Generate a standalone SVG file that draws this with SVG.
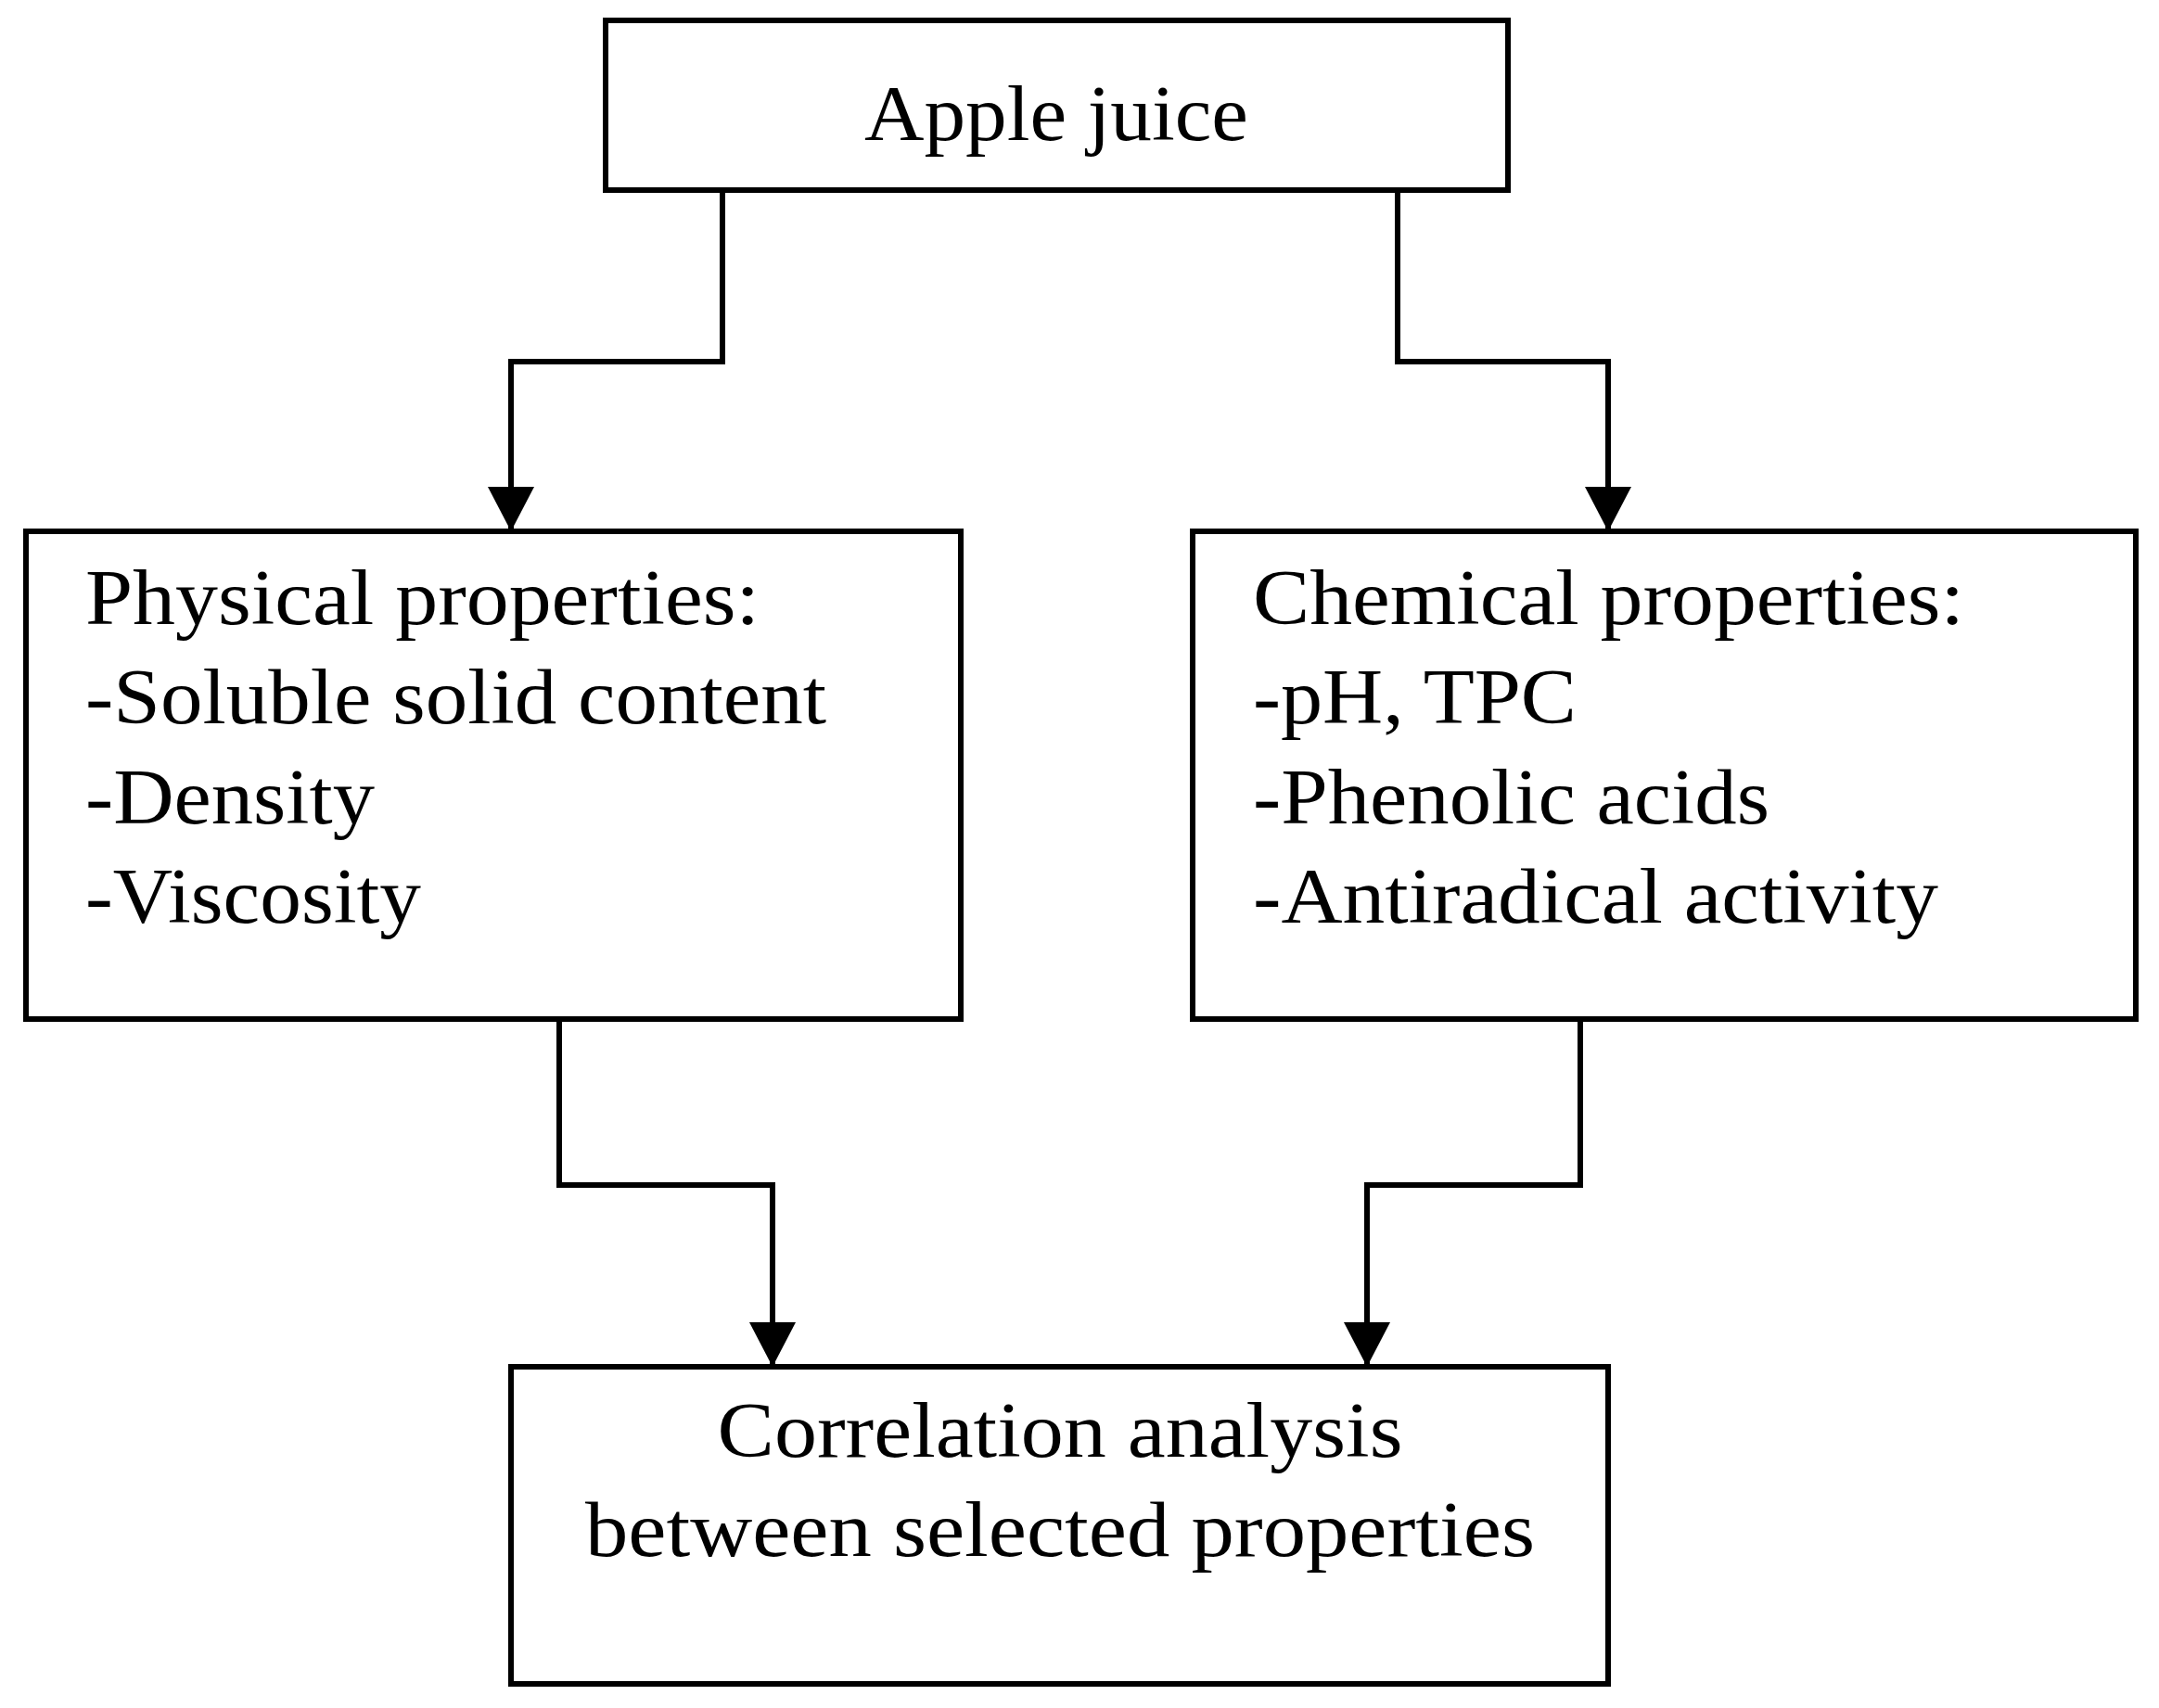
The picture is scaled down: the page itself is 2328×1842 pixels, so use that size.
<svg xmlns="http://www.w3.org/2000/svg" width="2328" height="1842" viewBox="0 0 2328 1842">
<style>
.box{fill:#fff;stroke:#000;stroke-width:6}
.c{fill:none;stroke:#000;stroke-width:6;marker-end:url(#a)}
text{font-family:"Liberation Serif",serif;font-size:84px;fill:#000}
</style>
<defs><marker id="a" markerUnits="userSpaceOnUse" markerWidth="52" markerHeight="50" refX="48" refY="25" orient="auto"><path d="M0,0 L48,25 L0,50 Z" fill="#000"/></marker></defs>
<rect width="2328" height="1842" fill="#fff"/>
<g id="connectors">
<path class="c" d="M779,205 V390 H551 V573"/>
<path class="c" d="M1507,205 V390 H1734 V573"/>
<path class="c" d="M603,1099 V1278 H833 V1474"/>
<path class="c" d="M1704,1099 V1278 H1474 V1474"/>
</g>
<g id="apple"><rect class="box" x="653" y="22" width="973" height="183"/><text x="1139" y="151" text-anchor="middle" textLength="414" lengthAdjust="spacingAndGlyphs">Apple juice</text></g>
<g id="physical"><rect class="box" x="28" y="573" width="1008" height="526"/>
<text x="92" y="673" textLength="727" lengthAdjust="spacingAndGlyphs">Physical properties:</text>
<text x="92" y="780" textLength="799" lengthAdjust="spacingAndGlyphs">-Soluble solid content</text>
<text x="92" y="888" textLength="312" lengthAdjust="spacingAndGlyphs">-Density</text>
<text x="92" y="995" textLength="362" lengthAdjust="spacingAndGlyphs">-Viscosity</text></g>
<g id="chemical"><rect class="box" x="1286" y="573" width="1017" height="526"/>
<text x="1351" y="673" textLength="767" lengthAdjust="spacingAndGlyphs">Chemical properties:</text>
<text x="1351" y="780" textLength="349" lengthAdjust="spacingAndGlyphs">-pH, TPC</text>
<text x="1351" y="888" textLength="557" lengthAdjust="spacingAndGlyphs">-Phenolic acids</text>
<text x="1351" y="995" textLength="739" lengthAdjust="spacingAndGlyphs">-Antiradical activity</text></g>
<g id="correlation"><rect class="box" x="551" y="1474" width="1183" height="342"/>
<text x="1143" y="1571" text-anchor="middle" textLength="739" lengthAdjust="spacingAndGlyphs">Correlation analysis</text>
<text x="1143" y="1678" text-anchor="middle" textLength="1024" lengthAdjust="spacingAndGlyphs">between selected properties</text></g>
</svg>
